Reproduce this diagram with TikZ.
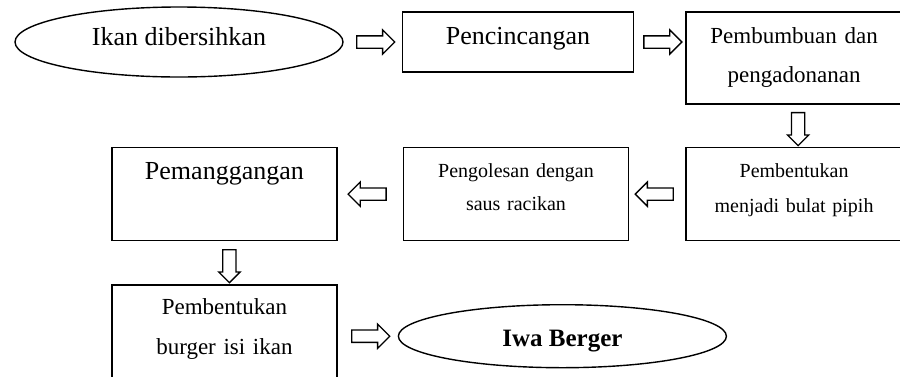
\documentclass[tikz,border=0pt]{standalone}
\usepackage{fontspec}
\setmainfont{Liberation Serif}
\usetikzlibrary{%
    positioning,
    shapes.arrows,
    shapes.geometric
}
\tikzset{stepbox/.style = {draw, line width=1.6pt, inner sep=0pt, align=center}}
\tikzset{terminal/.style = {ellipse, draw, line width=1.4pt, inner sep=0pt, minimum width=328pt}}
\tikzset{blockarrow/.style = {single arrow, draw, line width=1.3pt, inner xsep=0pt, single arrow head indent=0pt}}
\tikzset{rightarrow/.style = {blockarrow, minimum height=38pt, inner ysep=5.5pt, single arrow head extend=6pt}}
\tikzset{leftarrow/.style = {rightarrow, rotate=180}}
\tikzset{downarrow/.style = {blockarrow, minimum height=33pt, inner ysep=6pt, single arrow head extend=4pt, rotate=-90}}

\begin{document}
\begin{tikzpicture}[x=1pt,y=1pt]
    \useasboundingbox (0,0) rectangle (900,-376);

    \node[terminal, minimum height=70pt, text height=20pt, text depth=14pt,
        font=\fontsize{26}{30}\selectfont] (ikan) at (179,-42) {Ikan dibersihkan};
    \node[stepbox, text width=231pt, text height=32pt, text depth=28pt,
        font=\fontsize{26}{30}\selectfont] (cincang) [right=58pt of ikan] {Pencincangan};
    \node[stepbox, text width=216pt, text height=31pt, text depth=61pt,
        font=\fontsize{23}{39}\selectfont] (bumbu) [right=51pt of cincang.north east, anchor=north west]
        {Pembumbuan dan\\pengadonanan};
    \node[stepbox, text width=216pt, text height=30pt, text depth=63pt,
        font=\fontsize{20}{35}\selectfont] (bentuk) [below=42pt of bumbu]
        {Pembentukan\\menjadi bulat pipih};
    \node[stepbox, text width=225pt, text height=30pt, text depth=63pt,
        font=\fontsize{20}{33}\selectfont] (oles) [left=56pt of bentuk]
        {Pengolesan dengan\\saus racikan};
    \node[stepbox, text width=225pt, text height=32pt, text depth=61pt,
        font=\fontsize{26}{30}\selectfont] (panggang) [left=65pt of oles] {Pemanggangan};
    \node[stepbox, text width=225pt, text height=29pt, text depth=73pt,
        font=\fontsize{23}{40}\selectfont] (burger) [below=43pt of panggang]
        {Pembentukan\\burger isi ikan};
    \node[terminal, minimum height=63pt, text height=24pt, text depth=3pt,
        font=\fontsize{25}{30}\selectfont\bfseries] (iwa) [right=60pt of burger] {Iwa Berger};

    \path (ikan.east) -- node[rightarrow] (arr1) {} (cincang.west);
    \path (cincang.east) -- node[rightarrow] (arr2) {} (cincang.east -| bumbu.west);
    \path ([xshift=4pt]bumbu.south) -- node[downarrow] (arr3) {} ([xshift=4pt]bentuk.north);
    \path (bentuk.west) -- node[leftarrow] (arr4) {} (oles.east);
    \path (oles.west) -- node[leftarrow] (arr5) {} (panggang.east);
    \path ([xshift=5pt]panggang.south) -- node[downarrow] (arr6) {} ([xshift=5pt]burger.north);
    \path (burger.east) -- node[rightarrow] (arr7) {} (iwa.west);
\end{tikzpicture}
\end{document}
